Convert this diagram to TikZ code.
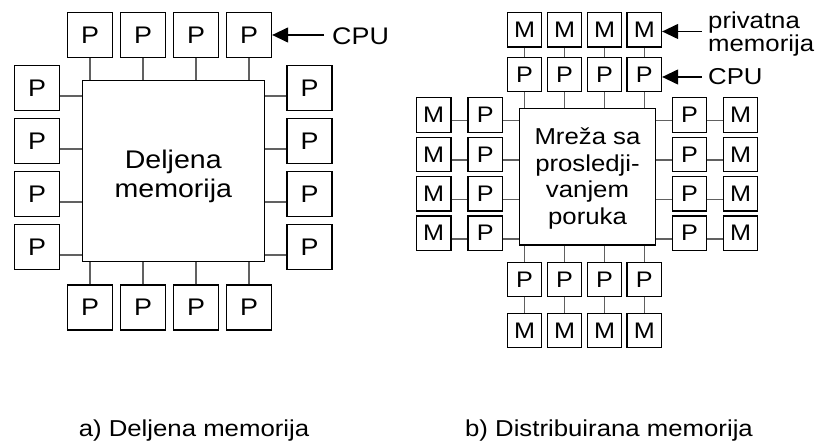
\documentclass[tikz,border=0pt]{standalone}
\usepackage{fontspec}
\setmainfont{Liberation Sans}[FakeStretch=1.12]
\usetikzlibrary{arrows.meta}
\tikzset{
  pbox/.style={draw=black, line width=1.3pt, minimum size=45pt, inner sep=0pt, font=\fontsize{24}{28}\selectfont},
  sbox/.style={draw=black, line width=1.3pt, minimum size=34.4pt, inner sep=0pt, font=\fontsize{22.5}{26}\selectfont},
  bigbox/.style={draw=black, line width=1.3pt, inner sep=0pt},
  conn/.style={draw=black!62, line width=1.4pt},
  arr/.style={draw=black, line width=1.3pt, -{Triangle[length=16pt,width=15pt]}},
  lbl/.style={inner sep=0pt, font=\fontsize{24}{28}\selectfont},
  captext/.style={inner sep=0pt, font=\fontsize{23}{27}\selectfont},
}
\begin{document}
\begin{tikzpicture}[x=1pt,y=-1pt]
\path[use as bounding box] (0,0) rectangle (816,443);
% ---------------- a) shared memory ----------------
\node[bigbox, minimum width=182pt, minimum height=181pt] (mem) at (173.3,171.2) {};
\node[inner sep=0pt, align=center, font=\fontsize{25.5}{29}\selectfont] (memtxt) at (173.3,176.2) {Deljena\\memorija};
\foreach \i/\x in {1/90,2/143,3/196,4/249}{
  \node[pbox] (tp\i) at (\x,35.2) {P};
  \node[pbox] (bp\i) at (\x,307.5) {P};
  \draw[conn] (tp\i.south) -- (tp\i.south |- mem.north);
  \draw[conn] (bp\i.north) -- (bp\i.north |- mem.south);
}
\foreach \i/\y in {1/88.2,2/141,3/194.2,4/247}{
  \node[pbox] (lp\i) at (37.2,\y) {P};
  \node[pbox] (rp\i) at (309.5,\y) {P};
  \draw[conn] ([yshift=-8pt]lp\i.east) -- ([yshift=-8pt]lp\i.east -| mem.west);
  \draw[conn] ([yshift=-8pt]rp\i.west) -- ([yshift=-8pt]rp\i.west -| mem.east);
}
\coordinate (acpu) at (324,35);
\draw[arr] (acpu) -- (acpu -| tp4.east);
\node[lbl, anchor=base west] (cpua) at (332,45) {CPU};
\node[captext, anchor=base] (capa) at (194,436.7) {a) Deljena memorija};
% ---------------- b) distributed memory ----------------
\node[bigbox, minimum width=136.4pt, minimum height=136.7pt] (net) at (587.5,176.7) {};
\node[inner sep=0pt, align=center, font=\fontsize{23}{26.5}\selectfont] (nettxt) at (587.5,178.7) {Mreža sa\\prosledji-\\vanjem\\poruka};
\foreach \i/\x in {1/524.5,2/564.5,3/604.5,4/644.3}{
  \node[sbox] (tm\i) at (\x,29.7) {M};
  \node[sbox] (tq\i) at (\x,74.5) {P};
  \node[sbox] (bq\i) at (\x,279.5) {P};
  \node[sbox] (bm\i) at (\x,330.5) {M};
  \draw[conn] (tm\i.south) -- (tq\i.north);
  \draw[conn] (tq\i.south) -- (tq\i.south |- net.north);
  \draw[conn] (bq\i.north) -- (bq\i.north |- net.south);
  \draw[conn] (bq\i.south) -- (bm\i.north);
}
\foreach \i/\y in {1/115,2/154.4,3/193.8,4/233.2}{
  \node[sbox] (lm\i) at (433.7,\y) {M};
  \node[sbox] (lq\i) at (485.3,\y) {P};
  \node[sbox] (rq\i) at (689.5,\y) {P};
  \node[sbox] (rm\i) at (740.5,\y) {M};
  \draw[conn] ([yshift=-5.7pt]lm\i.east) -- ([yshift=-5.7pt]lq\i.west);
  \draw[conn] ([yshift=-5.7pt]lq\i.east) -- ([yshift=-5.7pt]lq\i.east -| net.west);
  \draw[conn] ([yshift=-5.7pt]rq\i.west) -- ([yshift=-5.7pt]rq\i.west -| net.east);
  \draw[conn] ([yshift=-5.7pt]rq\i.east) -- ([yshift=-5.7pt]rm\i.west);
}
\coordinate (amem) at (701.7,31.5);
\draw[arr] (amem) -- (amem -| tm4.east);
\coordinate (acpub) at (701.7,77);
\draw[arr] (acpub) -- (acpub -| tq4.east);
\node[lbl, anchor=base west, font=\fontsize{23}{26}\selectfont] (priv) at (708,28.5) {privatna};
\node[lbl, anchor=base west, font=\fontsize{23}{26}\selectfont] (privm) at (708,52) {memorija};
\node[lbl, anchor=base west, font=\fontsize{23}{26}\selectfont] (cpub) at (708,85) {CPU};
\node[captext, anchor=base] (capb) at (609,436.7) {b) Distribuirana memorija};
\end{tikzpicture}
\end{document}
